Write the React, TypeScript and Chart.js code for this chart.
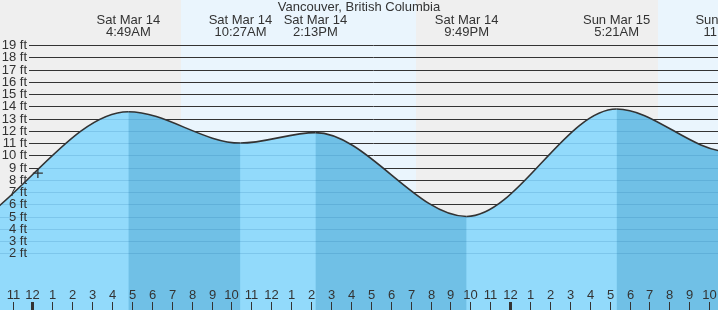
import React, { useEffect, useRef } from "react";
import { Chart, registerables } from "chart.js";

Chart.register(...registerables);

const TITLE = "Vancouver, British Columbia";

// Hours measured from Sat Mar 14 00:00 (local time); heights in feet
const tideHours = [-11.5, -4.8, 4.817, 10.45, 14.217, 21.817, 29.35, 35.0, 41.0];
const tideFeet = [12.6, 3.3, 13.56, 11.0, 11.85, 5.0, 13.78, 10.3, 12.0];

const extremeHours = [4.817, 10.45, 14.217, 21.817, 29.35, 35.0];
const extremeDays = ["Sat Mar 14", "Sat Mar 14", "Sat Mar 14", "Sat Mar 14", "Sun Mar 15", "Sun Mar 15"];
const extremeTimes = ["4:49AM", "10:27AM", "2:13PM", "9:49PM", "5:21AM", "11:00AM"];

const sunriseHours = [7.46, 31.43];
const sunsetHours = [19.27, 43.2];

const nowHours = [0.27];
const nowFeet = [8.55];

const tickHours = [-1, 0, 1, 2, 3, 4, 5, 6, 7, 8, 9, 10, 11, 12, 13, 14, 15, 16, 17, 18, 19, 20, 21, 22, 23, 24, 25, 26, 27, 28, 29, 30, 31, 32, 33, 34];
const tickLabels = ["11", "12", "1", "2", "3", "4", "5", "6", "7", "8", "9", "10", "11", "12", "1", "2", "3", "4", "5", "6", "7", "8", "9", "10", "11", "12", "1", "2", "3", "4", "5", "6", "7", "8", "9", "10"];
const midnightHours = [0, 24];

const feetTicks = [2, 3, 4, 5, 6, 7, 8, 9, 10, 11, 12, 13, 14, 15, 16, 17, 18, 19];

const X_MIN = -1.633;
const X_MAX = 34.447;
const Y_MIN = -2.63;
const Y_MAX = 22.68;

const NIGHT = "#efefef";
const DAY = "#eaf5fd";
const WATER_RISE = "#92dafb";
const WATER_FALL = "#70c0e6";
const INK = "#333333";
const FONT = "13px 'Liberation Sans', Arial, sans-serif";

function tracePath(ctx: CanvasRenderingContext2D, pts: any[], bottom: number) {
  ctx.beginPath();
  ctx.moveTo(pts[0].x, pts[0].y);
  for (let i = 1; i < pts.length; i++) {
    const p = pts[i - 1];
    const q = pts[i];
    if (p.cp2x !== undefined && q.cp1x !== undefined) {
      ctx.bezierCurveTo(p.cp2x, p.cp2y, q.cp1x, q.cp1y, q.x, q.y);
    } else {
      ctx.lineTo(q.x, q.y);
    }
  }
  ctx.lineTo(pts[pts.length - 1].x, bottom);
  ctx.lineTo(pts[0].x, bottom);
  ctx.closePath();
}

const tidePlugin = {
  id: "tideDecor",
  beforeDatasetsDraw(chart: any) {
    const { ctx, chartArea: a, scales } = chart;
    const x = scales.x;
    const y = scales.y;
    ctx.save();
    ctx.fillStyle = NIGHT;
    ctx.fillRect(a.left, a.top, a.right - a.left, a.bottom - a.top);
    ctx.fillStyle = DAY;
    for (let i = 0; i < sunriseHours.length; i++) {
      const x0 = Math.max(a.left, x.getPixelForValue(sunriseHours[i]));
      const x1 = Math.min(a.right, x.getPixelForValue(sunsetHours[i]));
      if (x1 > x0) ctx.fillRect(x0, a.top, x1 - x0, a.bottom - a.top);
    }
    ctx.strokeStyle = INK;
    ctx.lineWidth = 1;
    ctx.beginPath();
    for (const f of feetTicks) {
      const py = Math.round(y.getPixelForValue(f)) + 0.5;
      ctx.moveTo(29, py);
      ctx.lineTo(a.right, py);
    }
    ctx.stroke();
    const pts = chart.getDatasetMeta(0).data;
    if (pts && pts.length) {
      ctx.beginPath();
      ctx.rect(a.left, a.top, a.right - a.left, a.bottom - a.top);
      ctx.clip();
      ctx.fillStyle = WATER_RISE;
      tracePath(ctx, pts, a.bottom + 5);
      ctx.fill();
    }
    ctx.restore();
  },
  afterDatasetDraw(chart: any, args: any) {
    if (args.index !== 0) return;
    const { ctx, chartArea: a, scales } = chart;
    const y = scales.y;
    const pts = chart.getDatasetMeta(0).data;
    if (!pts || !pts.length) return;
    ctx.save();
    tracePath(ctx, pts, a.bottom + 5);
    ctx.clip();
    ctx.strokeStyle = "rgba(0,80,140,0.14)";
    ctx.lineWidth = 1;
    ctx.beginPath();
    for (const f of feetTicks) {
      const py = Math.round(y.getPixelForValue(f)) + 0.5;
      ctx.moveTo(a.left, py);
      ctx.lineTo(a.right, py);
    }
    ctx.stroke();
    ctx.restore();
  },
  afterDraw(chart: any) {
    const { ctx, chartArea: a, scales } = chart;
    const x = scales.x;
    const y = scales.y;
    ctx.save();
    ctx.font = FONT;
    ctx.fillStyle = INK;
    ctx.strokeStyle = INK;

    ctx.textAlign = "right";
    ctx.textBaseline = "middle";
    for (const f of feetTicks) {
      const py = Math.round(y.getPixelForValue(f)) + 0.5;
      ctx.fillText(f + " ft", 27, py);
    }

    ctx.textAlign = "center";
    for (let i = 0; i < tickHours.length; i++) {
      const px = Math.round(x.getPixelForValue(tickHours[i]));
      ctx.fillText(tickLabels[i], px + 0.5, 295);
      const thick = midnightHours.indexOf(tickHours[i]) >= 0;
      ctx.fillRect(thick ? px - 1 : px, 302, thick ? 3 : 1, a.bottom - 302);
    }

    for (let i = 0; i < extremeHours.length; i++) {
      const px = x.getPixelForValue(extremeHours[i]);
      ctx.fillText(extremeDays[i], px, 20);
      ctx.fillText(extremeTimes[i], px, 32);
    }

    ctx.fillText(TITLE, (a.left + a.right) / 2, 7.5);
    ctx.restore();
  },
};

export default function App() {
  const canvasRef = useRef<HTMLCanvasElement | null>(null);

  useEffect(() => {
    document.body.style.margin = "0";
    const canvas = canvasRef.current;
    if (!canvas) return;
    const chart = new Chart(canvas, {
      type: "line",
      data: {
        datasets: [
          {
            data: tideHours.map((h, i) => ({ x: h, y: tideFeet[i] })),
            order: 1,
            borderColor: INK,
            borderWidth: 1.6,
            backgroundColor: WATER_RISE,
            fill: "start",
            pointRadius: 0,
            cubicInterpolationMode: "monotone",
            segment: {
              backgroundColor: (c: any) => (c.p1.parsed.y < c.p0.parsed.y ? WATER_FALL : WATER_RISE),
            },
          },
          {
            type: "scatter",
            order: 0,
            data: nowHours.map((h, i) => ({ x: h, y: nowFeet[i] })),
            pointStyle: "cross",
            pointRadius: 5,
            pointBorderWidth: 1.3,
            pointBorderColor: INK,
            borderColor: INK,
            backgroundColor: INK,
            fill: false,
          },
        ],
      },
      options: {
        responsive: false,
        animation: false,
        events: [],
        layout: { padding: 0, autoPadding: false },
        plugins: { legend: { display: false }, tooltip: { enabled: false }, title: { display: false } },
        scales: {
          x: {
            type: "linear",
            display: false,
            bounds: "data",
            afterDataLimits: (s: any) => {
              s.min = X_MIN;
              s.max = X_MAX;
            },
          },
          y: {
            type: "linear",
            display: false,
            bounds: "data",
            min: Y_MIN,
            max: Y_MAX,
          },
        },
      },
      plugins: [tidePlugin],
    } as any);
    return () => chart.destroy();
  }, []);

  return (
    <div style={{ position: "fixed", left: 0, top: 0, width: 718, height: 310, margin: 0, padding: 0 }}>
      <canvas ref={canvasRef} width={718} height={310} style={{ display: "block" }} />
    </div>
  );
}
